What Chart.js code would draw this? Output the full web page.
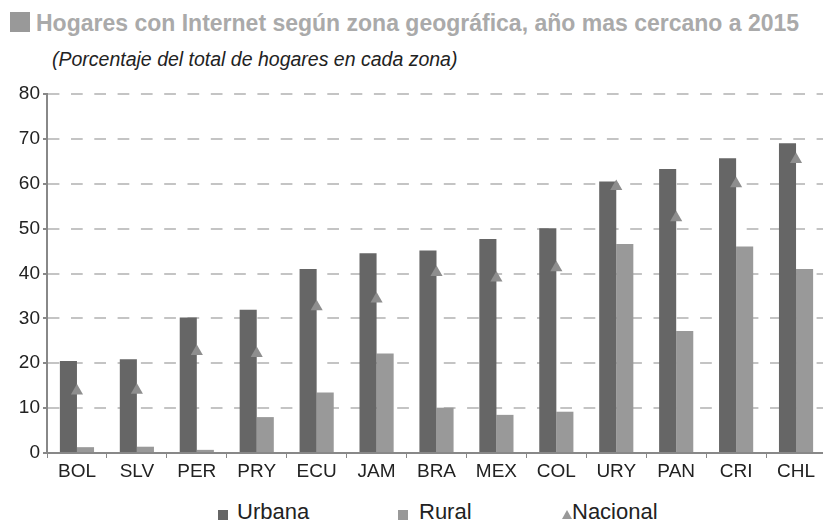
<!DOCTYPE html>
<html>
<head>
<meta charset="utf-8">
<script src="https://cdn.jsdelivr.net/npm/chart.js@4/dist/chart.umd.min.js"></script>
<style>
  html, body { margin: 0; padding: 0; background: #fff; }
  body { width: 823px; height: 524px; overflow: hidden; position: relative; font-family: 'Liberation Sans', Arial, sans-serif; }
  #wrap { position: absolute; left: 0; top: 0; width: 833px; height: 490px; }
  .sq { position: absolute; background: #999; }
  #title { position: absolute; left: 36px; top: 10px; font-size: 23px; font-weight: bold; color: #aaa; white-space: nowrap; }
  #sub { position: absolute; left: 52px; top: 48px; font-size: 19.5px; font-style: italic; color: #222; white-space: nowrap; }
  .leg { position: absolute; top: 499px; font-size: 22px; color: #222; white-space: nowrap; line-height: 26px; }
  .leg i { position: absolute; top: 11px; width: 10px; height: 10px; }
  .tri { position: absolute; top: 11px; width: 0; height: 0; border-left: 5px solid transparent; border-right: 5px solid transparent; border-bottom: 9px solid #999; }
</style>
</head>
<body>
<div class="sq" style="left:10px;top:12px;width:20px;height:20px;"></div>
<div id="title">Hogares con Internet según zona geográfica, año mas cercano a 2015</div>
<div id="sub">(Porcentaje del total de hogares en cada zona)</div>
<div id="wrap"><canvas id="chart"></canvas></div>
<div class="leg" style="left:218px;"><i style="left:0;background:#666"></i><span style="margin-left:19px">Urbana</span></div>
<div class="leg" style="left:398px;"><i style="left:0;background:#999"></i><span style="margin-left:21px">Rural</span></div>
<div class="leg" style="left:562px;"><span class="tri" style="left:0"></span><span style="margin-left:10px">Nacional</span></div>
<script>
// Data
const countries = ['BOL', 'SLV', 'PER', 'PRY', 'ECU', 'JAM', 'BRA', 'MEX', 'COL', 'URY', 'PAN', 'CRI', 'CHL'];
const urbana = [20.5, 20.9, 30.2, 31.9, 41.0, 44.5, 45.1, 47.7, 50.1, 60.5, 63.3, 65.7, 69.0];
const rural = [1.3, 1.4, 0.7, 8.0, 13.5, 22.2, 10.1, 8.5, 9.2, 46.6, 27.2, 46.0, 41.0];
const nacional = [13.8, 14.0, 22.6, 22.2, 32.6, 34.3, 40.2, 39.0, 41.3, 59.4, 52.4, 60.0, 65.4];
const yTicks = [0, 10, 20, 30, 40, 50, 60, 70, 80];

const ctx = document.getElementById('chart').getContext('2d');
new Chart(ctx, {
    data: {
        labels: countries,
        datasets: [
            {
                type: 'line',
                label: 'Nacional',
                data: nacional,
                showLine: false,
                pointStyle: 'triangle',
                pointRadius: 7,
                backgroundColor: '#8e8e8e',
                borderColor: '#8e8e8e',
                borderWidth: 0
            },
            {
                type: 'bar',
                label: 'Urbana',
                data: urbana,
                backgroundColor: '#666666',
                categoryPercentage: 0.57,
                barPercentage: 1.0
            },
            {
                type: 'bar',
                label: 'Rural',
                data: rural,
                backgroundColor: '#999999',
                categoryPercentage: 0.57,
                barPercentage: 1.0
            }
        ]
    },
    options: {
        responsive: true,
        maintainAspectRatio: false,
        animation: false,
        layout: { padding: { top: 94, left: 0, right: 0, bottom: 0 } },
        plugins: {
            legend: { display: false },
            tooltip: { enabled: false }
        },
        scales: {
            x: {
                offset: true,
                grid: { display: true, drawOnChartArea: false, drawTicks: true, tickLength: 5, tickColor: '#888', offset: true },
                border: { display: true, color: '#888', width: 2 },
                ticks: { color: '#222', font: { family: 'Liberation Sans', size: 19 }, padding: 2, maxRotation: 0, autoSkip: false },
                afterFit: (s) => { s.height = 37; }
            },
            y: {
                min: 0,
                max: 80,
                afterBuildTicks: (s) => { s.ticks = yTicks.map(v => ({ value: v })); },
                grid: { color: '#c4c4c4', lineWidth: 2, tickLength: 4, tickColor: '#888', tickWidth: 2 },
                border: { display: true, color: '#888', width: 2, dash: [11.7, 11.6], dashOffset: 0.3 },
                ticks: { color: '#222', font: { family: 'Liberation Sans', size: 19 }, padding: 3 },
                afterFit: (s) => { s.width = 47; }
            }
        }
    }
});
</script>
</body>
</html>
